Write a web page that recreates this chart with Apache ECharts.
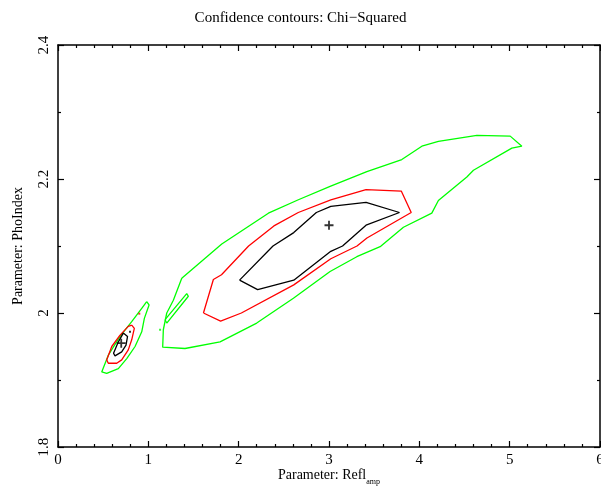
<!DOCTYPE html>
<html>
<head>
<meta charset="utf-8">
<script src="https://cdn.jsdelivr.net/npm/echarts@6/dist/echarts.min.js"></script>
<style>html,body{margin:0;padding:0;background:#fff}#c{width:601px;height:487px}</style>
</head>
<body>
<div id="c"></div>
<script>
// ---- data ----
const xTicks = [0, 1, 2, 3, 4, 5, 6];
const yTicks = [1.8, 2.0, 2.2, 2.4];

// 68% (black) contours
const blackMain = [[2.01,2.049],[2.21,2.035],[2.61,2.049],[3.02,2.092],[3.15,2.100],[3.41,2.131],[3.78,2.150],[3.41,2.165],[3.02,2.159],[2.86,2.150],[2.61,2.120],[2.38,2.100],[2.01,2.049]];
const blackLeft = [[0.723,1.970],[0.770,1.965],[0.753,1.952],[0.705,1.942],[0.631,1.936],[0.615,1.940],[0.668,1.957],[0.723,1.970]];
// 90% (red) contours
const redMain = [[1.61,2.000],[1.80,1.988],[2.03,2.000],[2.61,2.042],[3.02,2.081],[3.31,2.100],[3.42,2.112],[3.91,2.150],[3.80,2.182],[3.41,2.184],[3.02,2.169],[2.66,2.150],[2.39,2.130],[2.11,2.100],[1.81,2.057],[1.72,2.050],[1.61,2.000]];
const redLeft = [[0.816,1.982],[0.845,1.977],[0.816,1.960],[0.778,1.945],[0.705,1.930],[0.650,1.925],[0.557,1.925],[0.539,1.930],[0.595,1.950],[0.687,1.967],[0.778,1.980],[0.816,1.982]];
// 99% (green) contours
const greenMain = [[1.370,2.052],[1.813,2.103],[2.329,2.149],[2.661,2.169],[3.012,2.189],[3.419,2.211],[3.806,2.229],[4.028,2.249],[4.211,2.256],[4.637,2.265],[5.006,2.264],[5.135,2.249],[5.024,2.246],[4.599,2.213],[4.526,2.203],[4.211,2.168],[4.138,2.149],[3.824,2.128],[3.566,2.099],[3.308,2.084],[3.012,2.062],[2.606,2.022],[2.200,1.985],[1.794,1.957],[1.406,1.947],[1.159,1.949],[1.166,1.975],[1.204,2.000],[1.277,2.019],[1.370,2.052]];
const greenLoop = [[1.185,1.990],[1.425,2.029],[1.443,2.025],[1.204,1.985],[1.185,1.990]];
const greenLeft = [[0.982,2.017],[1.008,2.012],[0.956,1.992],[0.927,1.972],[0.853,1.950],[0.761,1.932],[0.668,1.917],[0.539,1.910],[0.484,1.912],[0.557,1.937],[0.687,1.965],[0.816,1.987],[0.927,2.007],[0.982,2.017]];

// isolated grid points
const greenDots = [[1.13,1.975]];
const redDots = [[0.90,1.999]];
const blackDots = [[0.797,1.972]];

// best-fit positions
const bestFit = [[3.00,2.131],[0.70,1.955]];

// ---- chart ----
const FONT = '"Liberation Serif", "DejaVu Serif", serif';
const chart = echarts.init(document.getElementById('c'), null, {renderer: 'canvas'});

function contour(data, color) {
  return {type: 'line', data: data, symbol: 'none', smooth: false, silent: true,
    lineStyle: {color: color, width: 1.3}, animation: false, z: 3};
}
function dots(data, color) {
  return {type: 'scatter', data: data, symbol: 'rect', symbolSize: 2,
    itemStyle: {color: color}, silent: true, animation: false, z: 3};
}

const axisCommon = {
  axisLine: {show: true, onZero: false, lineStyle: {color: '#000', width: 1.5}},
  axisTick: {show: true, inside: true, length: 6, lineStyle: {color: '#000', width: 1.2}},
  minorTick: {show: true, length: 3, lineStyle: {color: '#000', width: 1.2}},
  splitLine: {show: false}
};

chart.setOption({
  backgroundColor: '#fff',
  animation: false,
  title: {
    text: 'Confidence contours: Chi\u2212Squared',
    left: 'center', top: 6,
    textStyle: {fontFamily: FONT, fontSize: 15, fontWeight: 'normal', color: '#000'}
  },
  grid: {left: 58, right: 1, top: 45, bottom: 40, containLabel: false, outerBoundsMode: 'none'},
  xAxis: [
    Object.assign({}, axisCommon, {
      type: 'value', position: 'bottom', min: xTicks[0], max: xTicks[xTicks.length - 1], interval: 1,
      minorTick: Object.assign({}, axisCommon.minorTick, {splitNumber: 5}),
      axisLabel: {color: '#000', fontFamily: FONT, fontSize: 15, margin: 6,
        formatter: v => String(v)},
      name: '{a|Parameter: Refl}{b|amp}', nameLocation: 'middle', nameGap: 19, nameMoveOverlap: false,
      nameTextStyle: {color: '#000', fontFamily: FONT,
        rich: {a: {fontFamily: FONT, fontSize: 14, color: '#000', lineHeight: 16, verticalAlign: 'bottom'},
               b: {fontFamily: FONT, fontSize: 8, color: '#000', lineHeight: 16, verticalAlign: 'bottom', padding: [0,0,-4,0]}}}
    }),
    Object.assign({}, axisCommon, {
      type: 'value', position: 'top', min: xTicks[0], max: xTicks[xTicks.length - 1], interval: 1,
      minorTick: Object.assign({}, axisCommon.minorTick, {splitNumber: 5}),
      axisLabel: {show: false}
    })
  ],
  yAxis: [
    Object.assign({}, axisCommon, {
      type: 'value', position: 'left', min: yTicks[0], max: yTicks[yTicks.length - 1], interval: 0.2,
      minorTick: Object.assign({}, axisCommon.minorTick, {splitNumber: 2}),
      axisLabel: {color: '#000', fontFamily: FONT, fontSize: 15, rotate: 90, margin: 6,
        formatter: v => String(Math.round(v * 10) / 10)},
      name: 'Parameter: PhoIndex', nameLocation: 'middle', nameGap: 33, nameRotate: 90, nameMoveOverlap: false,
      nameTextStyle: {color: '#000', fontFamily: FONT, fontSize: 14}
    }),
    Object.assign({}, axisCommon, {
      type: 'value', position: 'right', min: yTicks[0], max: yTicks[yTicks.length - 1], interval: 0.2,
      minorTick: Object.assign({}, axisCommon.minorTick, {splitNumber: 2}),
      axisLabel: {show: false}
    })
  ],
  series: [
    contour(greenMain, '#00ff00'),
    contour(greenLoop, '#00ff00'),
    contour(greenLeft, '#00ff00'),
    contour(redMain, '#ff0000'),
    contour(redLeft, '#ff0000'),
    contour(blackMain, '#000000'),
    contour(blackLeft, '#000000'),
    dots(greenDots, '#00ff00'),
    dots(redDots, '#ff0000'),
    dots(blackDots, '#000000'),
    {type: 'scatter', data: bestFit, symbol: 'path://M4,0H6V4H10V6H6V10H4V6H0V4H4Z', symbolSize: 9,
      itemStyle: {color: '#000'}, silent: true, animation: false, z: 4}
  ]
});
</script>
</body>
</html>
